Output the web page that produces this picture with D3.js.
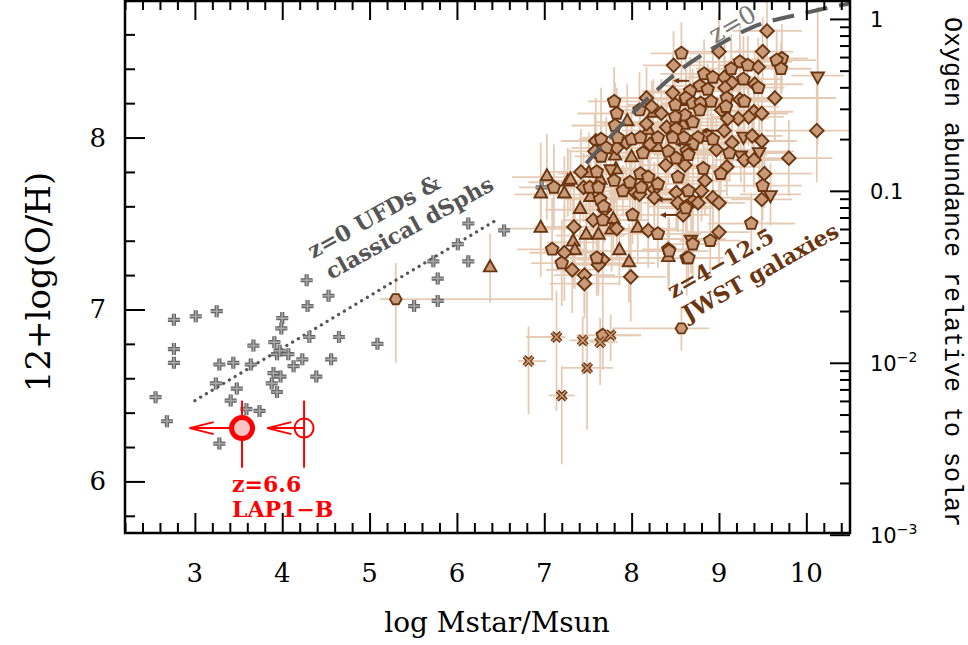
<!DOCTYPE html>
<html><head><meta charset="utf-8">
<script src="https://cdn.jsdelivr.net/npm/d3@7"></script>
<style>body{margin:0;background:#fff}</style>
</head><body>
<svg id="c" width="968" height="645"></svg>
<script>
// ---------------- DATA ----------------
// z=0 UFDs & classical dSphs  [logM, 12+log(O/H)]
const ufdPoints = [
 [2.55,6.49],[2.68,6.35],[2.76,6.94],[2.76,6.77],[2.76,6.69],[3.01,6.96],[3.25,6.99],[3.28,6.22],
 [3.24,6.57],[3.28,6.68],[3.44,6.69],[3.48,6.54],[3.41,6.47],[3.59,6.42],[3.74,6.41],[3.64,6.68],
 [3.67,6.79],[3.91,6.81],[4.00,6.95],[3.99,6.89],[3.94,6.74],[3.97,6.76],[4.07,6.74],[3.90,6.63],
 [3.98,6.61],[3.88,6.57],[3.94,6.52],[4.13,6.67],[4.23,6.71],[4.39,6.61],[4.56,6.71],[4.31,6.84],
 [4.29,7.02],[4.28,7.17],[4.53,7.08],[4.65,6.84],[5.09,6.80],[5.51,7.02],[5.78,7.05],[5.73,7.28],
 [5.78,7.18],[6.01,7.38],[6.13,7.50],[6.13,7.28],[6.54,7.46],[6.97,7.71]
];
// dotted relation for UFDs/dSphs
const ufdLineX = [3.0, 6.45];
const ufdLineY = [6.47, 7.52];
// z=0 mass-metallicity relation (dashed)
const z0X = [7.48, 8.05, 8.55, 9.00, 9.40, 9.95, 10.5];
const z0Y = [7.85, 8.16, 8.39, 8.54, 8.645, 8.72, 8.78];

// JWST galaxies z=4-12.5 : [logM, OH, xerr, yerr]
const jwstPentagons = [
 [8.57,8.49,0.35,0.18],[7.80,8.21,0.30,0.20],[7.83,8.14,0.45,0.15],[8.09,8.16,0.30,0.22],[8.50,8.19,0.55,0.16],
 [8.62,8.22,0.40,0.20],[8.61,8.13,0.30,0.14],[8.50,8.12,0.25,0.18],[7.81,8.07,0.50,0.25],[8.51,8.05,0.35,0.12],
 [7.84,8.00,0.40,0.20],[8.00,7.99,0.30,0.15],[8.10,8.00,0.60,0.18],[8.30,8.00,0.35,0.22],[8.47,8.00,0.45,0.16],
 [8.60,8.00,0.30,0.14],[7.65,7.99,0.25,0.30],[7.71,7.94,0.40,0.18],[8.42,7.92,0.50,0.20],[8.13,7.91,0.35,0.15],
 [9.72,8.46,0.30,0.20],[9.66,8.45,0.45,0.18],[9.71,8.40,0.35,0.15],[9.24,8.44,0.60,0.22],[9.14,8.40,0.40,0.20],
 [9.33,8.42,0.35,0.17],[8.83,8.37,0.50,0.20],[8.93,8.35,0.30,0.14],[9.28,8.34,0.45,0.25],[8.78,8.30,0.40,0.18],
 [9.45,8.29,0.30,0.16],[8.67,8.27,0.55,0.20],[8.87,8.28,0.35,0.15],[8.62,8.23,0.30,0.22],[9.09,8.23,0.50,0.19],
 [9.29,8.21,0.40,0.16],[8.70,8.20,0.35,0.20],[8.79,8.20,0.25,0.14],[8.91,8.21,0.45,0.18],[9.08,8.18,0.60,0.21],
 [8.78,8.16,0.30,0.15],[8.70,8.09,0.40,0.20],[8.87,8.01,0.35,0.17],[8.76,8.00,0.50,0.22],[8.93,7.99,0.30,0.15],
 [8.70,7.96,0.45,0.18],[8.63,7.92,0.35,0.20],[9.12,7.91,0.70,0.16],[7.11,7.71,0.40,0.25],[7.60,7.80,0.35,0.22],
 [7.65,7.89,0.30,0.18],[7.52,7.71,0.45,0.20],[7.62,7.71,0.30,0.28],[7.64,7.64,0.40,0.20],[7.80,7.75,0.50,0.18],
 [7.90,7.69,0.35,0.15],[7.98,7.74,0.30,0.22],[8.10,7.79,0.45,0.16],[8.11,7.71,0.30,0.19],[8.19,7.77,0.40,0.20],
 [8.30,7.73,0.55,0.18],[8.51,7.88,0.35,0.15],[8.53,7.77,0.30,0.21],[8.63,7.60,0.45,0.18],[7.67,7.52,0.35,0.25],
 [8.30,7.44,0.50,0.20],[8.42,7.35,0.30,0.18],[8.63,7.30,0.40,0.22],[8.01,7.55,0.35,0.17],[7.68,7.60,0.30,0.20],
 [7.09,7.35,0.40,0.30],[7.20,7.27,0.35,0.25],[7.60,7.30,0.45,0.22],[8.65,7.90,0.40,0.18],[8.82,7.82,0.35,0.20],
 [9.02,7.79,0.60,0.16],[9.50,7.72,0.45,0.20],[8.65,7.69,0.35,0.15],[8.62,7.59,0.30,0.19],[9.37,7.50,0.50,0.18],
 [8.90,7.40,0.35,0.22],[8.70,7.38,0.30,0.20],[8.65,7.30,0.40,0.16],[8.43,7.34,0.45,0.20],[7.67,6.85,0.30,0.20]
];
const jwstDiamonds = [
 [8.48,8.42,0.35,0.20],[8.17,8.23,0.45,0.18],[8.47,8.26,0.30,0.22],[8.23,8.18,0.40,0.15],[8.34,8.14,0.35,0.20],
 [8.17,8.08,0.50,0.17],[8.40,8.06,0.30,0.19],[7.59,7.98,0.40,0.25],[7.83,7.94,0.35,0.18],[7.94,7.97,0.30,0.20],
 [8.21,7.96,0.45,0.16],[7.58,7.92,0.30,0.22],[9.55,8.62,0.40,0.18],[9.50,8.50,0.35,0.20],[9.00,8.50,0.50,0.22],
 [9.45,8.41,0.30,0.17],[9.06,8.35,0.40,0.19],[9.15,8.32,0.35,0.15],[9.41,8.31,0.55,0.20],[9.07,8.29,0.30,0.18],
 [9.64,8.23,0.70,0.25],[9.24,8.22,0.40,0.16],[9.03,8.16,0.35,0.20],[9.40,8.15,0.45,0.18],[9.49,8.14,0.30,0.21],
 [9.34,8.12,0.40,0.17],[9.22,8.11,0.35,0.19],[9.10,8.11,0.30,0.15],[9.06,8.04,0.45,0.20],[10.12,8.04,0.60,0.30],
 [9.38,8.01,0.35,0.18],[9.49,7.98,0.40,0.20],[9.15,7.97,0.30,0.16],[8.97,7.93,0.45,0.19],[9.80,7.88,0.50,0.22],
 [7.42,7.80,0.40,0.25],[7.45,7.71,0.35,0.20],[8.04,7.68,0.30,0.18],[8.09,7.67,0.40,0.21],[8.26,7.70,0.35,0.16],
 [8.26,7.65,0.45,0.20],[8.39,7.84,0.30,0.18],[8.51,7.68,0.35,0.22],[8.53,7.62,0.40,0.17],[8.59,7.55,0.30,0.20],
 [7.34,7.48,0.45,0.25],[7.56,7.52,0.35,0.20],[7.83,7.47,0.30,0.18],[8.19,7.46,0.40,0.22],[7.69,7.58,0.35,0.19],
 [7.23,7.33,0.40,0.28],[7.32,7.23,0.30,0.25],[7.46,7.20,0.35,0.22],[7.46,7.15,0.40,0.20],[7.67,7.29,0.30,0.24],
 [7.62,7.26,0.35,0.18],[7.99,7.19,0.40,0.26],[8.61,7.84,0.35,0.18],[8.84,7.75,0.30,0.20],[9.09,7.83,0.45,0.17],
 [9.29,7.87,0.35,0.19],[9.40,7.87,0.40,0.16],[9.52,7.79,0.55,0.20],[9.49,7.64,0.35,0.22],[8.80,7.69,0.30,0.18],
 [8.70,7.63,0.40,0.20],[8.76,7.62,0.35,0.17],[8.93,7.65,0.45,0.19],[9.00,7.62,0.30,0.21],[9.00,7.45,0.35,0.20]
];
const jwstTriangles = [
 [8.25,8.14,0.40,0.20],[7.95,8.09,0.35,0.22],[8.19,8.04,0.30,0.18],[8.59,8.07,0.45,0.20],[8.30,7.94,0.35,0.16],
 [7.03,7.77,0.40,0.25],[6.96,7.67,0.30,0.30],[7.23,7.67,0.35,0.22],[7.27,7.74,0.45,0.20],[7.30,7.75,0.30,0.18],
 [7.51,7.79,0.35,0.24],[7.81,7.89,0.40,0.20],[7.64,7.75,0.30,0.18],[7.53,7.65,0.35,0.22],[7.82,7.81,0.45,0.19],
 [8.00,7.88,0.30,0.21],[7.41,7.58,0.40,0.25],[6.96,7.47,0.45,0.28],[7.48,7.43,0.35,0.22],[7.62,7.43,0.30,0.20],
 [7.79,7.52,0.40,0.18],[7.77,7.46,0.35,0.24],[8.07,7.47,0.45,0.20],[7.33,7.39,0.30,0.26],[7.35,7.34,0.35,0.22],
 [7.86,7.34,0.40,0.20],[7.97,7.27,0.30,0.23],[6.38,7.24,0.00,0.20],[8.42,7.30,0.35,0.18]
];
const jwstInvTriangles = [
 [10.13,8.36,0.30,0.40],[9.28,8.01,0.35,0.18],[9.46,7.92,0.40,0.20],[7.76,7.82,0.30,0.22],
 [9.59,7.67,0.35,0.18],[8.68,7.41,0.40,0.20],[9.25,7.90,0.30,0.16]
];
// asymmetric errors: [logM, OH, xlo, xhi, ylo, yhi]
const jwstCircles = [
 [8.57,6.89,0.79,0.32,0.13,0.13],[5.30,7.06,0.18,1.80,0.37,0.21]
];
const jwstCrosses = [
 [6.82,6.70,0.12,0.20,0.31,0.20],[7.14,6.84,0.35,0.10,0.43,0.27],[7.44,6.82,0.15,0.25,0.20,0.14],
 [7.64,6.81,0.12,0.20,0.25,0.14],[7.76,6.85,0.15,0.35,0.15,0.12],[7.49,6.66,0.28,0.30,0.36,0.45],
 [7.20,6.50,0.15,0.15,0.40,0.17]
];
// upper limits in mass (left arrows)
const jwstLimits = [[8.59,8.33],[8.61,7.96],[8.91,8.04],[8.44,7.55],[8.40,7.64]];

// LAP1-B  [logM, arrowTip, OH, ylo, yhi]
const lap1Filled = [3.54, 2.94, 6.31, 0.23, 0.16];
const lap1Open   = [4.25, 3.83, 6.31, 0.23, 0.16];

const xMajor = [3,4,5,6,7,8,9,10];
const yMajor = [6,7,8];
const rightMajor = [1,0.1,0.01,0.001];
const rightLabels = [["1",""],["0.1",""],["10","−2"],["10","−3"]];
const solarOH = 8.69;

// ---------------- CHART ----------------
const svg = d3.select("#c");
const L=125,R=850,T=0,B=533;
const x = d3.scaleLinear().domain([2.2,10.5]).range([L,R]);
const y = d3.scaleLinear().domain([5.7,8.8]).range([B,T]);
const yR = d3.scaleLog().domain([Math.pow(10,5.7-solarOH),Math.pow(10,8.8-solarOH)]).range([B,T]);

svg.append("defs").append("clipPath").attr("id","clip")
  .append("rect").attr("x",L).attr("y",T).attr("width",R-L).attr("height",B-T);
const g = svg.append("g").attr("clip-path","url(#clip)");

const ERR="#e6cbb4", FILL="#c99a78", EDGE="#6b3510";

// error bars for JWST
const sym = [].concat(jwstPentagons,jwstDiamonds,jwstTriangles,jwstInvTriangles);
const eg = g.append("g").attr("stroke",ERR).attr("stroke-width",1.8);
sym.forEach(d=>{
  if(d[2]>0) eg.append("line").attr("x1",x(d[0]-d[2])).attr("x2",x(d[0]+d[2])).attr("y1",y(d[1])).attr("y2",y(d[1]));
  eg.append("line").attr("x1",x(d[0])).attr("x2",x(d[0])).attr("y1",y(d[1]-d[3])).attr("y2",y(d[1]+d[3]));
});
[].concat(jwstCircles,jwstCrosses).forEach(d=>{
  eg.append("line").attr("x1",x(d[0]-d[2])).attr("x2",x(d[0]+d[3])).attr("y1",y(d[1])).attr("y2",y(d[1]));
  eg.append("line").attr("x1",x(d[0])).attr("x2",x(d[0])).attr("y1",y(d[1]-d[4])).attr("y2",y(d[1]+d[5]));
});

// dotted UFD relation
g.append("path").datum(d3.zip(ufdLineX,ufdLineY))
  .attr("d",d3.line().x(d=>x(d[0])).y(d=>y(d[1])))
  .attr("fill","none").attr("stroke","#555").attr("stroke-width",3.2)
  .attr("stroke-dasharray","0.1,6.6").attr("stroke-linecap","round");

// UFD crosses
const ug = g.append("g");
ufdPoints.forEach(d=>{
  const cx=x(d[0]), cy=y(d[1]), s=6;
  const p=`M${cx-s},${cy}H${cx+s}M${cx},${cy-s}V${cy+s}`;
  ug.append("path").attr("d",p).attr("stroke","#666").attr("stroke-width",4.2).attr("fill","none");
  ug.append("path").attr("d",p).attr("stroke","#a8a8a8").attr("stroke-width",1.6).attr("fill","none");
});

// marker shapes
function poly(pts){return "M"+pts.map(p=>p.join(",")).join("L")+"Z";}
function pentagon(cx,cy,r){return poly(d3.range(5).map(k=>{const a=-Math.PI/2+k*2*Math.PI/5;return [cx+r*Math.cos(a),cy+r*Math.sin(a)];}));}
function diamond(cx,cy,r){return poly([[cx,cy-r],[cx+r,cy],[cx,cy+r],[cx-r,cy]]);}
function tri(cx,cy,r,dir){return poly([[cx,cy-dir*r],[cx+r*0.9,cy+dir*r*0.6],[cx-r*0.9,cy+dir*r*0.6]]);}
function hexagon(cx,cy,r){return poly(d3.range(6).map(k=>{const a=k*Math.PI/3;return [cx+r*Math.cos(a),cy+r*Math.sin(a)];}));}

const mg = g.append("g").attr("fill",FILL).attr("stroke",EDGE).attr("stroke-width",1.9);
jwstTriangles.forEach(d=>mg.append("path").attr("d",tri(x(d[0]),y(d[1])-1,7,1)));
jwstInvTriangles.forEach(d=>mg.append("path").attr("d",tri(x(d[0]),y(d[1])+1,7,-1)));
jwstDiamonds.forEach(d=>mg.append("path").attr("d",diamond(x(d[0]),y(d[1]),6.8)));
jwstPentagons.forEach(d=>mg.append("path").attr("d",pentagon(x(d[0]),y(d[1]),6.6)));
jwstCircles.forEach(d=>mg.append("path").attr("d",hexagon(x(d[0]),y(d[1]),5.8)));
jwstCrosses.forEach(d=>{
  const cx=x(d[0]), cy=y(d[1]), s=4.5;
  const p=`M${cx-s},${cy-s}L${cx+s},${cy+s}M${cx-s},${cy+s}L${cx+s},${cy-s}`;
  g.append("path").attr("d",p).attr("stroke",EDGE).attr("stroke-width",4.2).attr("fill","none");
  g.append("path").attr("d",p).attr("stroke",FILL).attr("stroke-width",1.6).attr("fill","none");
});
jwstLimits.forEach(d=>{
  const cx=x(d[0]), cy=y(d[1]);
  g.append("line").attr("x1",cx+6).attr("x2",cx-6).attr("y1",cy).attr("y2",cy).attr("stroke",EDGE).attr("stroke-width",2);
  g.append("path").attr("d",`M${cx-10},${cy}L${cx-4},${cy-3}L${cx-4},${cy+3}Z`).attr("fill",EDGE);
});

// z=0 dashed relation (on top of markers)
g.append("path").datum(d3.zip(z0X,z0Y))
  .attr("d",d3.line().curve(d3.curveMonotoneX).x(d=>x(d[0])).y(d=>y(d[1])))
  .attr("fill","none").attr("stroke","#5e5e5e").attr("stroke-width",4)
  .attr("stroke-dasharray","22,12");

// LAP1-B
const RED="#ff0000";
function lap(d, filled){
  const cx=x(d[0]), tip=x(d[1]), cy=y(d[2]);
  svg.append("line").attr("x1",cx).attr("x2",cx).attr("y1",y(d[2]-d[3])).attr("y2",y(d[2]+d[4])).attr("stroke",RED).attr("stroke-width",2);
  svg.append("line").attr("x1",cx).attr("x2",tip).attr("y1",cy).attr("y2",cy).attr("stroke",RED).attr("stroke-width",2);
  svg.append("path").attr("d",`M${tip+24},${cy-6}L${tip},${cy}L${tip+24},${cy+6}`).attr("fill","none").attr("stroke",RED).attr("stroke-width",2);
  if(filled) svg.append("circle").attr("cx",cx).attr("cy",cy).attr("r",10.5).attr("fill","#fac4c4").attr("stroke",RED).attr("stroke-width",5);
  else svg.append("circle").attr("cx",cx).attr("cy",cy).attr("r",9.5).attr("fill","none").attr("stroke",RED).attr("stroke-width",2);
}
lap(lap1Filled,true); lap(lap1Open,false);

// ---------------- AXES ----------------
const minorX = d3.range(22,106,2).map(v=>v/10).filter(v=>!xMajor.includes(v));
const minorY = d3.range(58,88,2).map(v=>v/10).filter(v=>!yMajor.includes(v));
function ticks(axisFn, scale, vals, size, tr){
  const a = svg.append("g").attr("transform",tr)
    .call(axisFn(scale).tickValues(vals).tickSize(size).tickFormat(""));
  a.select(".domain").remove();
  a.selectAll("line").attr("stroke","#000").attr("stroke-width",2);
}
ticks(d3.axisBottom,x,xMajor,-20,`translate(0,${B})`);
ticks(d3.axisBottom,x,minorX,-10,`translate(0,${B})`);
ticks(d3.axisTop,x,xMajor,-20,`translate(0,${T})`);
ticks(d3.axisTop,x,minorX,-10,`translate(0,${T})`);
ticks(d3.axisLeft,y,yMajor,-20,`translate(${L},0)`);
ticks(d3.axisLeft,y,minorY,-10,`translate(${L},0)`);
const rMinor=[];
[0.001,0.01,0.1,1].forEach(dec=>d3.range(2,10).forEach(k=>{const v=dec*k; if(v<=yR.domain()[1]) rMinor.push(v);}));
ticks(d3.axisRight,yR,rightMajor,-20,`translate(${R},0)`);
ticks(d3.axisRight,yR,rMinor,-10,`translate(${R},0)`);

svg.append("rect").attr("x",L).attr("y",T+1).attr("width",R-L).attr("height",B-T-1)
  .attr("fill","none").attr("stroke","#000").attr("stroke-width",2.5);

const serif="'DejaVu Serif', serif";
svg.append("g").selectAll("text").data(xMajor).join("text")
  .attr("x",d=>x(d)).attr("y",582).attr("text-anchor","middle")
  .attr("font-family",serif).attr("font-size",26).text(d=>d);
svg.append("g").selectAll("text").data(yMajor).join("text")
  .attr("x",106).attr("y",d=>y(d)+9).attr("text-anchor","end")
  .attr("font-family",serif).attr("font-size",26).text(d=>d);
svg.append("text").attr("x",497).attr("y",632).attr("text-anchor","middle")
  .attr("font-family",serif).attr("font-size",28).text("log Mstar/Msun");
svg.append("text").attr("transform","translate(50,282) rotate(-90)").attr("text-anchor","middle")
  .attr("font-family",serif).attr("font-size",34).text("12+log(O/H)");

const rl = svg.append("g").selectAll("text").data(rightMajor).join("text")
  .attr("x",870).attr("y",d=>yR(d)+8)
  .attr("font-family","'DejaVu Sans', sans-serif").attr("font-size",21);
rl.append("tspan").text((d,i)=>rightLabels[i][0]);
rl.append("tspan").attr("dy",-9).attr("font-size",14).text((d,i)=>rightLabels[i][1]);
svg.append("text").attr("transform","translate(945,272) rotate(90)").attr("text-anchor","middle")
  .attr("font-family","'Liberation Mono', monospace").attr("font-size",25).text("Oxygen abundance relative to solar");

// annotations
const aFont="'DejaVu Serif', serif";
function ann(txt,px,py,ang,col,size,weight){
  svg.append("text").attr("transform",`translate(${px},${py}) rotate(${ang})`)
    .attr("font-family",aFont).attr("font-size",size).attr("font-weight",weight).attr("fill",col).text(txt);
}
ann("z=0 UFDs &",313,259,-29,"#555",22,"bold");
ann("classical dSphs",331,280,-29,"#555",22,"bold");
ann("z=4−12.5",673,299,-29.5,"#6b3510",22,"bold");
ann("JWST galaxies",688,322,-29.5,"#6b3510",22,"bold");
ann("z=0",715,44,-30,"#777",25,"normal");
svg.append("text").attr("x",232).attr("y",492).attr("font-family",aFont).attr("font-size",22).attr("font-weight","bold").attr("fill",RED).text("z=6.6");
svg.append("text").attr("x",232).attr("y",517).attr("font-family",aFont).attr("font-size",22).attr("font-weight","bold").attr("fill",RED).text("LAP1−B");
</script>
</body></html>
